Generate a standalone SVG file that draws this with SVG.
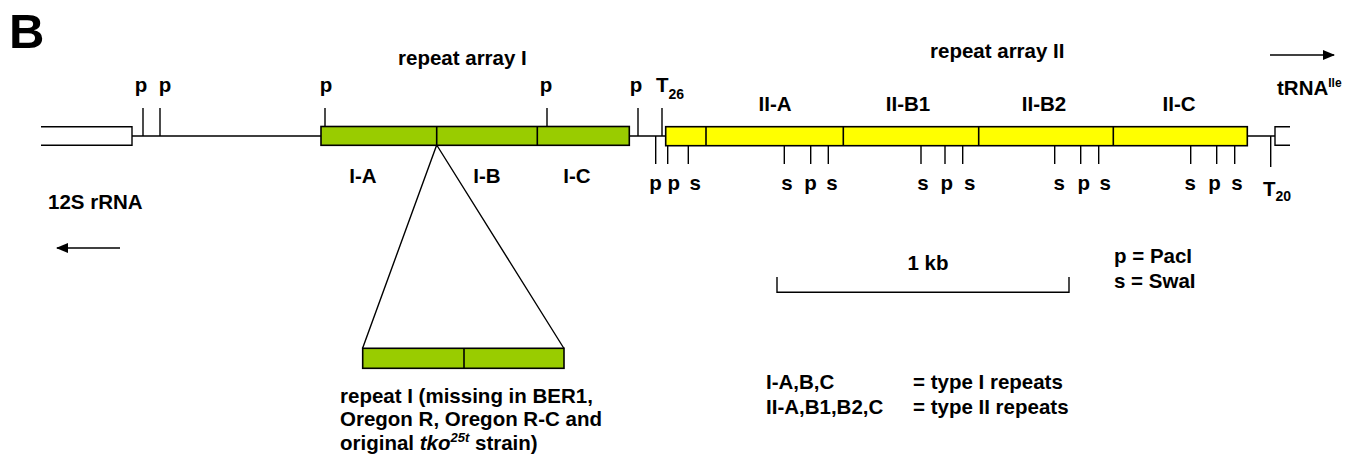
<svg xmlns="http://www.w3.org/2000/svg" width="1348" height="460" viewBox="0 0 1348 460">
<style>
text{font-family:"Liberation Sans",Arial,sans-serif;font-weight:bold;font-size:20.5px;fill:#000}
.c{text-anchor:middle}
.sub{font-size:14px}
.ln{stroke:#000;stroke-width:1.4;fill:none}
.g{fill:#99CC00;stroke:#000;stroke-width:1.6}
.y{fill:#FFFF00;stroke:#000;stroke-width:1.6}
</style>
<defs>
<marker id="ah" markerWidth="12" markerHeight="10" refX="11" refY="5" orient="auto" markerUnits="userSpaceOnUse">
<path d="M0,0 L12,5 L0,10 Z" fill="#000"/>
</marker>
</defs>
<rect width="1348" height="460" fill="#fff"/>
<text x="9" y="48" style="font-size:49px">B</text>
<g id="connectors">
<path class="ln" d="M132,136 H321 M629,136 H666 M1247,136 H1275"/>
<path class="ln" d="M143,108 V136 M160,108 V136 M325,108 V126 M547,108 V126 M638,108 V136 M662,108 V136"/>
<path class="ln" d="M655.7,136 V164 M667.7,146 V164 M688.3,146 V164 M784.3,146 V164 M810.7,146 V164 M828.3,146 V164 M921,146 V164 M945,146 V164 M962.7,146 V164 M1054.7,146 V164 M1080.7,146 V164 M1098.7,146 V164 M1190.7,146 V164 M1216.7,146 V164 M1234.7,146 V164 M1270.7,136 V167"/>
<path class="ln" d="M436.7,145 L362.5,348.5 M436.7,145 L564,348.5"/>
<line class="ln" x1="120" y1="248" x2="57" y2="248" marker-end="url(#ah)"/>
<line class="ln" x1="1270" y1="55" x2="1334" y2="55" marker-end="url(#ah)"/>
<path class="ln" d="M777,277 V292.3 H1069 V277"/>
</g>
<g id="rrna12s">
<path class="ln" d="M41,126.7 H132 V145.3 H41"/>
<text x="48" y="209">12S rRNA</text>
</g>
<g id="trna">
<path class="ln" d="M1290,126.7 H1275 V145.3 H1290"/>
<text x="1277" y="95">tRNA<tspan dy="-8" style="font-size:12px">Ile</tspan></text>
</g>
<g id="array1">
<rect class="g" x="321" y="126.5" width="308.3" height="18.8"/>
<path class="ln" d="M436.7,126.5 V145.3 M537.3,126.5 V145.3" style="stroke-width:1.6"/>
<text x="398" y="65">repeat array I</text>
<text class="c" x="363" y="183">I-A</text>
<text class="c" x="487" y="183">I-B</text>
<text class="c" x="577" y="183">I-C</text>
</g>
<g id="array2">
<rect class="y" x="665.7" y="126.7" width="581.6" height="19"/>
<path class="ln" d="M706,126.7 V145.7 M843.3,126.7 V145.7 M978.7,126.7 V145.7 M1113.3,126.7 V145.7" style="stroke-width:1.6"/>
<text x="930" y="58">repeat array II</text>
<text class="c" x="775" y="111">II-A</text>
<text class="c" x="908" y="111">II-B1</text>
<text class="c" x="1044" y="111">II-B2</text>
<text class="c" x="1179" y="111">II-C</text>
</g>
<g id="site-labels">
<text class="c" x="141" y="92">p</text>
<text class="c" x="165" y="92">p</text>
<text class="c" x="326" y="92">p</text>
<text class="c" x="546" y="92">p</text>
<text class="c" x="636" y="92">p</text>
<text x="656" y="92">T<tspan class="sub" dy="7">26</tspan></text>
<text class="c" x="655.5" y="190">p</text>
<text class="c" x="673.8" y="190">p</text>
<text class="c" x="695.3" y="190">s</text>
<text class="c" x="787" y="190">s</text>
<text class="c" x="810.5" y="190">p</text>
<text class="c" x="832" y="190">s</text>
<text class="c" x="923" y="190">s</text>
<text class="c" x="946.7" y="190">p</text>
<text class="c" x="969.7" y="190">s</text>
<text class="c" x="1059.3" y="190">s</text>
<text class="c" x="1083.8" y="190">p</text>
<text class="c" x="1105.3" y="190">s</text>
<text class="c" x="1190.3" y="190">s</text>
<text class="c" x="1214.5" y="190">p</text>
<text class="c" x="1237" y="190">s</text>
<text x="1263" y="196">T<tspan class="sub" dy="5">20</tspan></text>
</g>
<g id="repeat1">
<rect class="g" x="362.7" y="348.3" width="201.3" height="20"/>
<line class="ln" x1="464" y1="348.3" x2="464" y2="368.3" style="stroke-width:1.6"/>
<text x="340" y="403">repeat I (missing in BER1,</text>
<text x="340" y="426">Oregon R, Oregon R-C and</text>
<text x="340" y="450">original <tspan font-style="italic">tko</tspan><tspan font-style="italic" dy="-8" style="font-size:13px">25t</tspan><tspan dy="8"> strain)</tspan></text>
</g>
<g id="scale">
<text class="c" x="928" y="270">1 kb</text>
</g>
<g id="legend">
<text x="1114" y="263">p = PacI</text>
<text x="1114" y="288">s = SwaI</text>
<text x="766" y="389">I-A,B,C</text>
<text x="913" y="389">= type I repeats</text>
<text x="766" y="414">II-A,B1,B2,C</text>
<text x="913" y="414">= type II repeats</text>
</g>
</svg>
